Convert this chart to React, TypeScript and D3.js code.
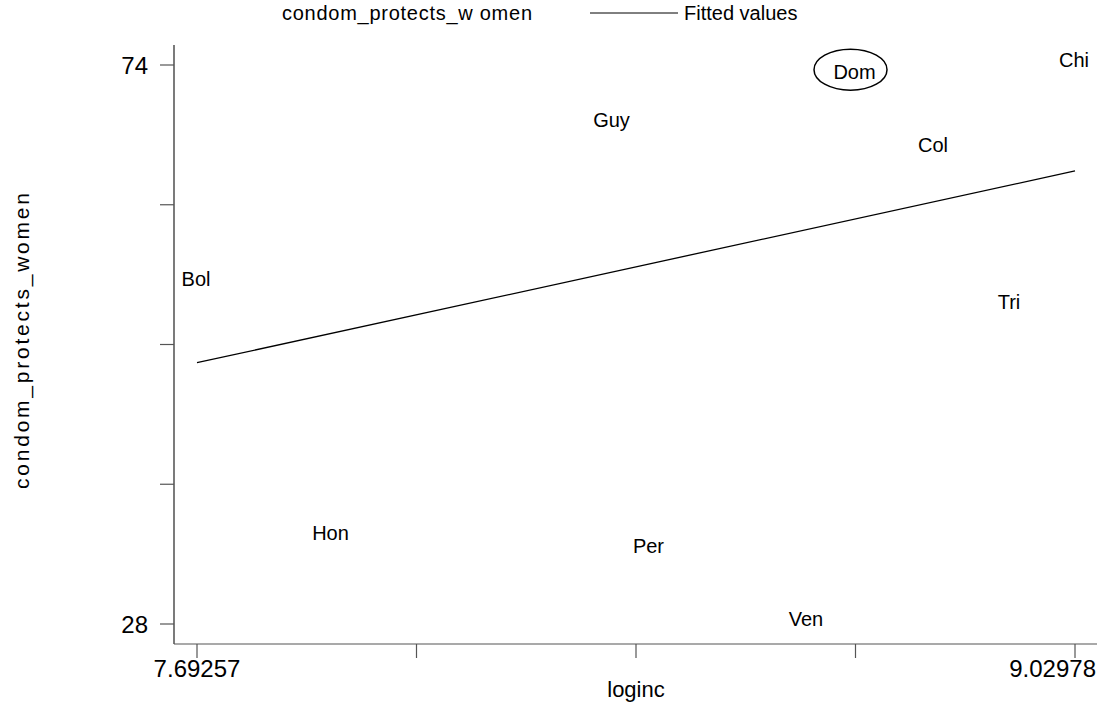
import React from "react";
import * as d3 from "d3";

const countries = ["Bol", "Hon", "Guy", "Per", "Ven", "Dom", "Col", "Tri", "Chi"];
const loginc = [7.69257, 7.8974, 8.3254, 8.3817, 8.6216, 8.6955, 8.815, 8.9308, 9.02978];
const condomProtects = [56.0, 35.1, 69.05, 34.0, 28.0, 73.0, 67.0, 54.1, 74.0];
const fittedX = [7.69257, 9.02978];
const fittedY = [49.5, 65.28];
const xTicks = [7.69257, 8.0268725, 8.361175, 8.6954775, 9.02978];
const xTickLabels = ["7.69257", "", "", "", "9.02978"];
const yTicks = [74, 62.5, 51, 39.5, 28];
const yTickLabels = ["74", "", "", "", "28"];
const highlighted = ["Dom"];

const W = 1102;
const H = 712;
const FONT = "'Liberation Sans', Arial, sans-serif";

export default function App() {
  const x = d3.scaleLinear().domain([7.69257, 9.02978]).range([197, 1075]);
  const y = d3.scaleLinear().domain([28, 74]).range([624, 65]);
  const axisLeft = 174;
  const axisBottom = 644;

  const line = d3
    .line<number>()
    .x((d) => x(d))
    .y((_, i) => y(fittedY[i]));

  return (
    <svg
      width={W}
      height={H}
      style={{ position: "absolute", left: 0, top: 0, background: "#fff" }}
      fontFamily={FONT}
    >
      {/* legend */}
      <text x={282} y={20} fontSize={20} fill="#000" textLength={250} lengthAdjust="spacing">
        condom_protects_w omen
      </text>
      <line x1={590} x2={678} y1={13} y2={13} stroke="#000" strokeWidth={1} />
      <text x={684} y={20} fontSize={20} fill="#000">
        Fitted values
      </text>

      {/* y axis */}
      <line x1={axisLeft} x2={axisLeft} y1={45} y2={axisBottom} stroke="#222" strokeWidth={1.2} />
      {yTicks.map((t, i) => (
        <g key={"yt" + i}>
          <line x1={160} x2={axisLeft} y1={y(t)} y2={y(t)} stroke="#555" strokeWidth={1.2} />
          {yTickLabels[i] && (
            <text x={148} y={y(t) + 9} fontSize={24} textAnchor="end" fill="#000">
              {yTickLabels[i]}
            </text>
          )}
        </g>
      ))}

      {/* x axis */}
      <line x1={axisLeft} x2={1097} y1={axisBottom} y2={axisBottom} stroke="#555" strokeWidth={1.2} />
      {xTicks.map((t, i) => {
        const label = xTickLabels[i];
        const px = x(t);
        const last = i === xTicks.length - 1;
        return (
          <g key={"xt" + i}>
            <line x1={px} x2={px} y1={axisBottom} y2={axisBottom + 14} stroke="#555" strokeWidth={1.2} />
            {label && (
              <text
                x={last ? 1096 : px}
                y={677}
                fontSize={24}
                textAnchor={last ? "end" : "middle"}
                fill="#000"
              >
                {label}
              </text>
            )}
          </g>
        );
      })}

      {/* axis titles */}
      <text x={636} y={697} fontSize={22} textAnchor="middle" fill="#000">
        loginc
      </text>
      <text
        transform={`translate(29,${341}) rotate(-90)`}
        fontSize={21}
        textAnchor="middle"
        fill="#000"
        textLength={296}
        lengthAdjust="spacing"
      >
        condom_protects_women
      </text>

      {/* fitted line */}
      <path d={line(fittedX) || ""} fill="none" stroke="#000" strokeWidth={1.3} />

      {/* labels */}
      {countries.map((c, i) => (
        <text
          key={c}
          x={x(loginc[i]) - 1}
          y={y(condomProtects[i]) + 2}
          fontSize={20}
          textAnchor="middle"
          fill="#000"
        >
          {c}
        </text>
      ))}

      {/* highlight ellipse */}
      {countries.map((c, i) =>
        highlighted.includes(c) ? (
          <ellipse
            key={"e" + c}
            cx={x(loginc[i]) - 5}
            cy={y(condomProtects[i]) - 7.5}
            rx={36.5}
            ry={20.5}
            fill="none"
            stroke="#000"
            strokeWidth={1.5}
          />
        ) : null
      )}
    </svg>
  );
}
